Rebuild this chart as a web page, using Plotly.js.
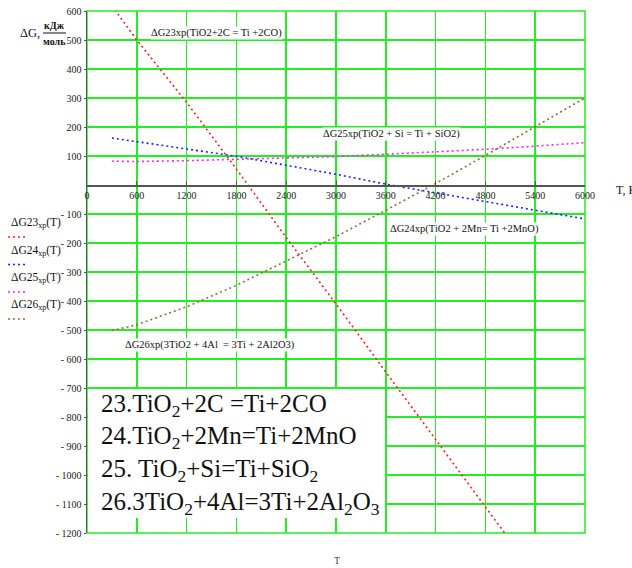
<!DOCTYPE html>
<html>
<head>
<meta charset="utf-8">
<script src="https://cdn.plot.ly/plotly-3.0.1.min.js"></script>
<style>html,body{margin:0;padding:0;background:#fff;}#chart{width:632px;height:568px;}</style>
</head>
<body>
<div id="chart"></div>
<script>
// Temperatures, K
var T = [300, 600, 1200, 1800, 2400, 3000, 3600, 4200, 4800, 5400, 6000];
// ΔG, kJ/mol
var dG23 = [618, 500, 285, 55, -181, -410, -645, -877, -1107, -1340, -1575];
var dG24 = [162, 149, 125, 99, 68, 37, 3, -27, -56, -85, -117];
var dG25 = [82, 81, 84, 88, 93, 98, 106, 114, 123, 134, 146];
var dG26 = [-502, -482, -420, -346, -262, -178, -87, 5, 102, 200, 300];

var seriesNames = ["ΔG23", "ΔG24", "ΔG25", "ΔG26"];
var seriesColors = ["#ff2020", "#2020ff", "#ff20ff", "#a0683a"];
var seriesData = [dG23, dG24, dG25, dG26];

var xTicks = [0, 600, 1200, 1800, 2400, 3000, 3600, 4200, 4800, 5400, 6000];
var yTicks = [600, 500, 400, 300, 200, 100, -100, -200, -300, -400, -500, -600, -700, -800, -900, -1000, -1100, -1200];
var yTickText = yTicks.map(function(v){ return v < 0 ? "- " + (-v) : String(v); });

var curveLabels = [
  {text: "ΔG23xp(TiO2+2C = Ti +2CO)", x: 1563, y: 525},
  {text: "ΔG25xp(TiO2 + Si = Ti + SiO2)", x: 3667, y: 177},
  {text: "ΔG24xp(TiO2 + 2Mn= Ti +2MnO)", x: 4553, y: -151},
  {text: "ΔG26xp(3TiO2 + 4Al  = 3Ti + 2Al2O3)", x: 1479, y: -551}
];

var reactions = [
  "23.TiO<sub>2</sub>+2C =Ti+2CO",
  "24.TiO<sub>2</sub>+2Mn=Ti+2MnO",
  "25. TiO<sub>2</sub>+Si=Ti+SiO<sub>2</sub>",
  "26.3TiO<sub>2</sub>+4Al=3Ti+2Al<sub>2</sub>O<sub>3</sub>"
];

var serif = "Liberation Serif";

var traces = seriesData.map(function(d, i){
  return {
    x: T, y: d, type: "scatter", mode: "lines",
    line: {color: seriesColors[i], width: 1.6, dash: "2px,3px"},
    showlegend: false, hoverinfo: "skip"
  };
});

// plot-area pixel helpers (for decorations only)
var L = 87, R = 47, TOP = 11, B = 35, W = 632, H = 568;
var pw = W - L - R, ph = H - TOP - B;
function px(x){ return (x - L) / pw; }
function py(y){ return (H - B - y) / ph; }

var annotations = [];
var shapes = [];

curveLabels.forEach(function(c){
  annotations.push({x: c.x, y: c.y, xref: "x", yref: "y", text: c.text, showarrow: false,
    font: {family: serif, size: 10.5, color: "#111"}, bgcolor: "#ffffff", borderpad: 0});
});

// left legend
var legY = [223, 250.5, 278, 305];
seriesNames.forEach(function(n, i){
  annotations.push({x: px(9), y: py(legY[i]), xref: "paper", yref: "paper", xanchor: "left", yanchor: "middle",
    text: n + "<sub>xp</sub>(T)", showarrow: false, font: {family: serif, size: 11.5, color: "#111"}});
  shapes.push({type: "line", xref: "paper", yref: "paper", x0: px(8), x1: px(26), y0: py(legY[i] + 14), y1: py(legY[i] + 14),
    line: {color: seriesColors[i], width: 1.6, dash: "2px,3px"}});
});

// white box with reaction list
shapes.push({type: "rect", xref: "paper", yref: "paper", x0: px(88), x1: px(385), y0: py(518), y1: py(389),
  fillcolor: "#ffffff", line: {width: 0}, layer: "above"});
var rY = [405, 437, 470, 503];
reactions.forEach(function(r, i){
  annotations.push({x: px(99), y: py(rY[i]), xref: "paper", yref: "paper", xanchor: "left", yanchor: "middle",
    text: r, showarrow: false, font: {family: serif, size: 25, color: "#111"}});
});

// axis titles
annotations.push({x: px(42), y: py(33), xref: "paper", yref: "paper", xanchor: "right", yanchor: "middle",
  text: "ΔG,", showarrow: false, font: {family: serif, size: 12.5, color: "#111"}});
annotations.push({x: px(54), y: py(25), xref: "paper", yref: "paper", xanchor: "center", yanchor: "middle",
  text: "<b>кДж</b>", showarrow: false, font: {family: serif, size: 10, color: "#111"}});
annotations.push({x: px(54), y: py(42), xref: "paper", yref: "paper", xanchor: "center", yanchor: "middle",
  text: "<b>моль</b>", showarrow: false, font: {family: serif, size: 10, color: "#111"}});
shapes.push({type: "line", xref: "paper", yref: "paper", x0: px(43), x1: px(66), y0: py(33), y1: py(33),
  line: {color: "#111", width: 1}});
annotations.push({x: px(614), y: py(190), xref: "paper", yref: "paper", xanchor: "left", yanchor: "middle",
  text: "T, K", showarrow: false, font: {family: serif, size: 12, color: "#111"}});
annotations.push({x: px(337), y: py(560), xref: "paper", yref: "paper", xanchor: "center", yanchor: "middle",
  text: "T", showarrow: false, font: {family: serif, size: 10, color: "#445"}});

// plot frame (green, like grid)
shapes.push({type: "rect", xref: "paper", yref: "paper", x0: 0, x1: 1, y0: 0, y1: 1,
  line: {color: "#22ee22", width: 1.5}, layer: "below"});

var layout = {
  width: W, height: H,
  margin: {l: L, r: R, t: TOP, b: B, pad: 0},
  paper_bgcolor: "#ffffff", plot_bgcolor: "#ffffff",
  showlegend: false,
  font: {family: serif, size: 10, color: "#222"},
  xaxis: {
    range: [0, 6000], tickvals: xTicks, ticktext: xTicks.map(String),
    showgrid: true, gridcolor: "#22ee22", gridwidth: 1.5,
    zeroline: false, showline: true, linecolor: "#555", linewidth: 1.5,
    anchor: "free", position: 1200 / 1800, side: "bottom",
    ticks: "inside", ticklen: 4, tickcolor: "#555",
    tickfont: {family: serif, size: 10, color: "#222"}
  },
  yaxis: {
    range: [-1200, 600], tickvals: yTicks, ticktext: yTickText,
    showgrid: true, gridcolor: "#22ee22", gridwidth: 1.5,
    zeroline: false, showline: true, linecolor: "#555", linewidth: 1.5,
    ticks: "outside", ticklen: 2, tickcolor: "#555",
    tickfont: {family: serif, size: 10, color: "#222"}
  },
  annotations: annotations,
  shapes: shapes
};

Plotly.newPlot("chart", traces, layout, {staticPlot: true, displayModeBar: false});
</script>
</body>
</html>
